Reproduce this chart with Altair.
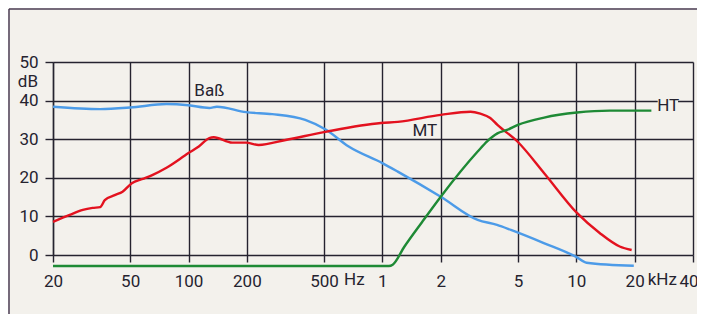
import altair as alt
import pandas as pd

# ---- data ----
bass_f = [20, 35, 50, 77, 100, 128, 140, 198, 270, 400, 510, 670, 1000, 1200, 2000, 3100, 3900, 4600, 6800, 10000, 11300, 19800]
bass_db = [38.4, 37.8, 38.2, 39.1, 38.8, 38.1, 38.4, 37.0, 36.5, 35.0, 32.5, 28.1, 23.8, 21.6, 15.1, 9.1, 7.8, 6.5, 3.1, -0.5, -2.0, -2.8]

mt_f = [20, 24.4, 28.5, 32, 35, 37, 41.6, 45.7, 51, 58, 65, 77, 100, 113, 128, 135, 168, 198, 230, 317, 508, 984, 1200, 2000, 2850, 3200, 3600, 3920, 4970, 6830, 10080, 13200, 16750, 19300]
mt_db = [8.6, 10.4, 11.7, 12.2, 12.4, 14.2, 15.5, 16.4, 18.6, 19.7, 20.7, 22.6, 26.4, 28.1, 30.3, 30.5, 29.1, 29.1, 28.5, 29.8, 31.9, 34.2, 34.5, 36.3, 37.1, 36.6, 35.5, 33.7, 29.4, 21.2, 10.9, 5.7, 2.2, 1.3]

ht_f = [20, 1080, 1130, 1300, 1600, 2000, 3100, 3480, 3920, 4400, 5000, 6830, 10080, 14900, 24400]
ht_db = [-2.85, -2.85, -2.5, 2.2, 8.5, 15.1, 26.8, 29.5, 31.5, 32.4, 33.7, 35.6, 36.9, 37.4, 37.4]

x_ticks = [20, 50, 100, 200, 500, 1000, 2000, 5000, 10000, 20000, 40000]
y_ticks = [0, 10, 20, 30, 40, 50]

series_names = ["Baß", "MT", "HT"]
series_colors = ["#4c9be8", "#e3121f", "#1e8a35"]
label_f = [128, 1654, 29800]
label_db = [42.5, 32.0, 38.6]

unit_text = ["Hz", "kHz"]
unit_f = [500, 20000]

# ---- styling ----
PAPER = "#f3f1ec"
INK = "#25232f"
FONT = "Roboto"
FS = 17

rows = []
for name, fs, dbs in [("Baß", bass_f, bass_db), ("MT", mt_f, mt_db), ("HT", ht_f, ht_db)]:
    for i, (f, d) in enumerate(zip(fs, dbs)):
        rows.append({"series": name, "f": f, "db": d, "order": i})
df = pd.DataFrame(rows)

xscale = alt.Scale(type="log", domain=[20, 40000], nice=False)
yscale = alt.Scale(domain=[0, 50], nice=False, zero=False)

xaxis = alt.Axis(
    values=x_ticks, grid=True, gridColor=INK, gridWidth=1.4, gridOpacity=1,
    tickColor=INK, tickWidth=1.4, tickSize=7, domain=False, title=None,
    labelFont=FONT, labelFontSize=FS, labelColor=INK, labelPadding=11,
    labelExpr="datum.value >= 1000 ? format(datum.value / 1000, 'd') : format(datum.value, 'd')",
    labelFlush=False, labelOverlap=False,
    labelAlign={"condition": {"test": "datum.value == 40000", "value": "right"}, "value": "center"},
    labelOffset={"condition": {"test": "datum.value == 40000", "value": 5}, "value": 0},
)
yaxis = alt.Axis(
    values=y_ticks, grid=True, gridColor=INK, gridWidth=1.4, gridOpacity=1,
    tickColor=INK, tickWidth=1.4, tickSize=8, domain=True, domainColor=INK,
    domainWidth=1.4, title=None, labelFont=FONT, labelFontSize=FS,
    labelColor=INK, labelPadding=7, labelFlush=False, labelOverlap=False,
)

XE = alt.X("f:Q", scale=xscale, axis=xaxis)
YE = alt.Y("db:Q", scale=yscale, axis=yaxis)

lines = alt.Chart(df).mark_line(strokeWidth=2.4, interpolate="monotone", clip=False).encode(
    x=XE, y=YE,
    color=alt.Color("series:N", scale=alt.Scale(domain=series_names, range=series_colors), legend=None),
    order="order:Q",
)

# knock-out box behind the HT label on the 40 dB gridline
knock = alt.Chart(pd.DataFrame({"f": [26300], "f2": [33500], "db": [37.0], "db2": [41.0]})).mark_rect(
    fill=PAPER, stroke=None
).encode(x=XE, x2="f2:Q", y=YE, y2="db2:Q")

lab_df = pd.DataFrame({"name": series_names, "f": label_f, "db": label_db})
labels = alt.Chart(lab_df).mark_text(
    font=FONT, fontSize=FS, color=INK, align="center", baseline="middle"
).encode(x=XE, y=YE, text="name:N")

db_label = alt.Chart(pd.DataFrame({"f": [20], "db": [44.9], "t": ["dB"]})).mark_text(
    font=FONT, fontSize=FS, color=INK, align="right", baseline="middle", dx=-15
).encode(x=XE, y=YE, text="t:N")

hz = alt.Chart(pd.DataFrame({"f": [unit_f[0]], "db": [-6.4], "t": [unit_text[0]]})).mark_text(
    font=FONT, fontSize=FS, color=INK, align="left", baseline="middle", dx=20
).encode(x=XE, y=YE, text="t:N")

khz = alt.Chart(pd.DataFrame({"f": [unit_f[1]], "db": [-6.4], "t": [unit_text[1]]})).mark_text(
    font=FONT, fontSize=FS, color=INK, align="left", baseline="middle", dx=13
).encode(x=XE, y=YE, text="t:N")

# outer border of the printed figure
border_top = alt.Chart(pd.DataFrame({"a": [0]})).mark_rule(color="#4b3d55", strokeWidth=1.5).encode(
    x=alt.value(-44), x2=alt.value(660), y=alt.value(-53)
)
border_left = alt.Chart(pd.DataFrame({"a": [0]})).mark_rule(color="#4b3d55", strokeWidth=1.5).encode(
    x=alt.value(-44), y=alt.value(-53), y2=alt.value(252)
)

chart = alt.layer(lines, knock, labels, db_label, hz, khz, border_top, border_left).properties(
    width=640, height=193,
    autosize=alt.AutoSizeParams(type="none"),
    padding={"left": 45, "top": 54, "right": 4, "bottom": 59},
    background=PAPER,
).configure_view(stroke=None)

chart.save("out.html", embed_options={"renderer": "svg", "actions": False})
